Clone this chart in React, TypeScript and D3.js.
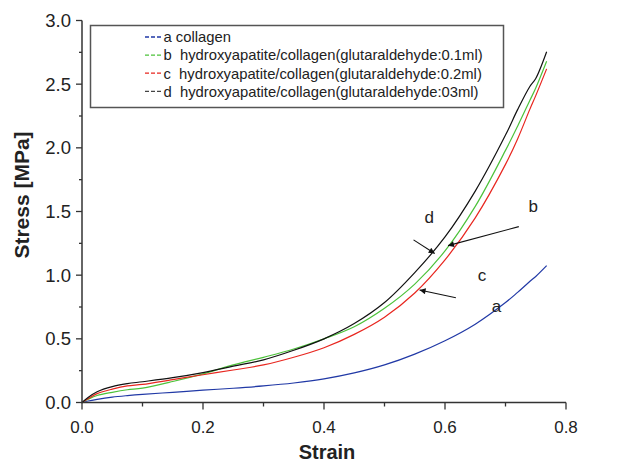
import React, { useEffect, useRef } from 'react'
import * as d3 from 'd3'

// strain values shared by all four curves
const strain = [0, 0.01, 0.025, 0.05, 0.075, 0.1, 0.15, 0.2, 0.25, 0.3, 0.35, 0.4, 0.45, 0.5, 0.55, 0.6, 0.65, 0.7, 0.72, 0.74, 0.75, 0.768]

// stress [MPa]
const stressA = [0, 0.012, 0.025, 0.042, 0.054, 0.064, 0.08, 0.097, 0.112, 0.13, 0.153, 0.185, 0.232, 0.295, 0.38, 0.485, 0.615, 0.785, 0.865, 0.95, 0.99, 1.075]
const stressB = [0, 0.025, 0.055, 0.08, 0.1, 0.113, 0.165, 0.225, 0.295, 0.355, 0.42, 0.5, 0.595, 0.74, 0.93, 1.19, 1.54, 1.98, 2.17, 2.37, 2.47, 2.68]
const stressC = [0, 0.03, 0.07, 0.105, 0.13, 0.142, 0.18, 0.218, 0.255, 0.295, 0.355, 0.43, 0.535, 0.67, 0.86, 1.12, 1.45, 1.87, 2.07, 2.3, 2.41, 2.62]
const stressD = [0, 0.04, 0.085, 0.125, 0.148, 0.163, 0.195, 0.235, 0.285, 0.335, 0.41, 0.5, 0.62, 0.785, 1.02, 1.3, 1.66, 2.1, 2.3, 2.48, 2.545, 2.755]

const seriesKeys = ['a', 'b', 'c', 'd']
const seriesColors = ['#2139a6', '#4cc23a', '#e8261f', '#111111']
const legendLabels = [
  'a collagen',
  'b  hydroxyapatite/collagen(glutaraldehyde:0.1ml)',
  'c  hydroxyapatite/collagen(glutaraldehyde:0.2ml)',
  'd  hydroxyapatite/collagen(glutaraldehyde:03ml)',
]

const xTicks = [0, 0.2, 0.4, 0.6, 0.8]
const xMinorTicks = [0.1, 0.3, 0.5, 0.7]
const yTicks = [0, 0.5, 1.0, 1.5, 2.0, 2.5, 3.0]
const yMinorTicks = [0.25, 0.75, 1.25, 1.75, 2.25, 2.75]

// annotation letters and arrows, in data units (strain, stress)
const annoLabels = [
  { t: 'd', x: 0.574, y: 1.46 },
  { t: 'b', x: 0.746, y: 1.54 },
  { t: 'c', x: 0.661, y: 1.005 },
  { t: 'a', x: 0.685, y: 0.755 },
]
const annoArrows = [
  { x1: 0.548, y1: 1.277, x2: 0.583, y2: 1.17 },
  { x1: 0.722, y1: 1.381, x2: 0.605, y2: 1.232 },
  { x1: 0.618, y1: 0.823, x2: 0.558, y2: 0.883 },
]

const W = 630
const H = 463

function App() {
  const ref = useRef<SVGSVGElement>(null)

  useEffect(() => {
    const svg = d3.select(ref.current)
    svg.selectAll('*').remove()

    const margin = { top: 20.5, right: 64, bottom: 60.5, left: 82 }
    const width = W - margin.left - margin.right
    const height = H - margin.top - margin.bottom

    const x = d3.scaleLinear().domain([0, 0.8]).range([margin.left, margin.left + width])
    const y = d3.scaleLinear().domain([0, 3]).range([margin.top + height, margin.top])

    const font = 'Arial, "Liberation Sans", Helvetica, sans-serif'
    const axisColor = '#333'

    const defs = svg.append('defs')
    defs
      .append('marker')
      .attr('id', 'arrowhead')
      .attr('viewBox', '0 0 10 10')
      .attr('refX', 10)
      .attr('refY', 5)
      .attr('markerWidth', 9)
      .attr('markerHeight', 6)
      .attr('markerUnits', 'userSpaceOnUse')
      .attr('orient', 'auto')
      .append('path')
      .attr('d', 'M0,0 L10,5 L0,10 Z')
      .attr('fill', '#111')

    // curves
    const allStress = [stressA, stressB, stressC, stressD]
    const line = d3
      .line<number>()
      .x((d, i) => x(strain[i]))
      .y((d) => y(d))
      .curve(d3.curveCatmullRom.alpha(0.5))

    allStress.forEach((s, i) => {
      svg
        .append('path')
        .attr('d', line(s))
        .attr('fill', 'none')
        .attr('stroke', seriesColors[i])
        .attr('stroke-width', 1.2)
        .attr('class', 'series-' + seriesKeys[i])
    })

    // axes
    const gx = svg.append('g').attr('transform', `translate(0, ${y(0)})`)
    gx.append('line')
      .attr('x1', x(0))
      .attr('x2', x(0.8))
      .attr('stroke', axisColor)
      .attr('stroke-width', 1.5)
    gx.selectAll('.major')
      .data(xTicks)
      .enter()
      .append('line')
      .attr('x1', (d) => x(d))
      .attr('x2', (d) => x(d))
      .attr('y1', 0)
      .attr('y2', 7)
      .attr('stroke', axisColor)
      .attr('stroke-width', 1.3)
    gx.selectAll('.minor')
      .data(xMinorTicks)
      .enter()
      .append('line')
      .attr('x1', (d) => x(d))
      .attr('x2', (d) => x(d))
      .attr('y1', 0)
      .attr('y2', 4)
      .attr('stroke', axisColor)
      .attr('stroke-width', 1.3)
    gx.selectAll('.lbl')
      .data(xTicks)
      .enter()
      .append('text')
      .attr('x', (d) => x(d))
      .attr('y', 30)
      .attr('text-anchor', 'middle')
      .attr('font-family', font)
      .attr('font-size', 17)
      .attr('fill', '#222')
      .text((d) => d3.format('.1f')(d))

    const gy = svg.append('g').attr('transform', `translate(${x(0)}, 0)`)
    gy.append('line')
      .attr('y1', y(0) + 0.75)
      .attr('y2', y(3))
      .attr('stroke', axisColor)
      .attr('stroke-width', 1.5)
    gy.selectAll('.major')
      .data(yTicks)
      .enter()
      .append('line')
      .attr('x1', -6)
      .attr('x2', 0)
      .attr('y1', (d) => y(d))
      .attr('y2', (d) => y(d))
      .attr('stroke', axisColor)
      .attr('stroke-width', 1.3)
    gy.selectAll('.minor')
      .data(yMinorTicks)
      .enter()
      .append('line')
      .attr('x1', -3)
      .attr('x2', 0)
      .attr('y1', (d) => y(d))
      .attr('y2', (d) => y(d))
      .attr('stroke', axisColor)
      .attr('stroke-width', 1.3)
    gy.selectAll('.lbl')
      .data(yTicks)
      .enter()
      .append('text')
      .attr('x', -11)
      .attr('y', (d) => y(d) + 6.5)
      .attr('text-anchor', 'end')
      .attr('font-family', font)
      .attr('font-size', 18.5)
      .attr('fill', '#222')
      .text((d) => d3.format('.1f')(d))

    // axis titles
    svg
      .append('text')
      .attr('x', 327)
      .attr('y', 458.5)
      .attr('text-anchor', 'middle')
      .attr('font-family', font)
      .attr('font-weight', 'bold')
      .attr('font-size', 20)
      .attr('fill', '#222')
      .text('Strain')
    svg
      .append('text')
      .attr('transform', 'translate(28.5, 195) rotate(-90)')
      .attr('text-anchor', 'middle')
      .attr('font-family', font)
      .attr('font-weight', 'bold')
      .attr('font-size', 21)
      .attr('fill', '#222')
      .text('Stress [MPa]')

    // legend
    const lg = svg.append('g')
    lg.append('rect')
      .attr('x', 90.5)
      .attr('y', 25.5)
      .attr('width', 413)
      .attr('height', 82)
      .attr('fill', 'white')
      .attr('stroke', '#555')
      .attr('stroke-width', 1.5)
    legendLabels.forEach((lab, i) => {
      const cy = 37 + i * 18.1
      lg.append('line')
        .attr('x1', 145)
        .attr('x2', 163)
        .attr('y1', cy)
        .attr('y2', cy)
        .attr('stroke', i === 3 ? '#444' : seriesColors[i])
        .attr('stroke-width', 1.3)
        .attr('stroke-dasharray', '4,2')
      lg.append('text')
        .attr('x', 163.5)
        .attr('y', cy + 5.3)
        .attr('font-family', font)
        .attr('font-size', 14.8)
        .attr('fill', '#222')
        .style('white-space', 'pre')
        .text(lab)
    })

    // annotations
    svg
      .selectAll('.anno')
      .data(annoLabels)
      .enter()
      .append('text')
      .attr('x', (d) => x(d.x))
      .attr('y', (d) => y(d.y) + 6)
      .attr('text-anchor', 'middle')
      .attr('font-family', font)
      .attr('font-size', 17)
      .attr('fill', '#222')
      .text((d) => d.t)
    svg
      .selectAll('.arrow')
      .data(annoArrows)
      .enter()
      .append('line')
      .attr('x1', (d) => x(d.x1))
      .attr('y1', (d) => y(d.y1))
      .attr('x2', (d) => x(d.x2))
      .attr('y2', (d) => y(d.y2))
      .attr('stroke', '#111')
      .attr('stroke-width', 1.1)
      .attr('marker-end', 'url(#arrowhead)')
  }, [])

  return (
    <svg
      ref={ref}
      width={W}
      height={H}
      style={{ position: 'absolute', left: 0, top: 0, background: 'white' }}
    ></svg>
  )
}

export default App
